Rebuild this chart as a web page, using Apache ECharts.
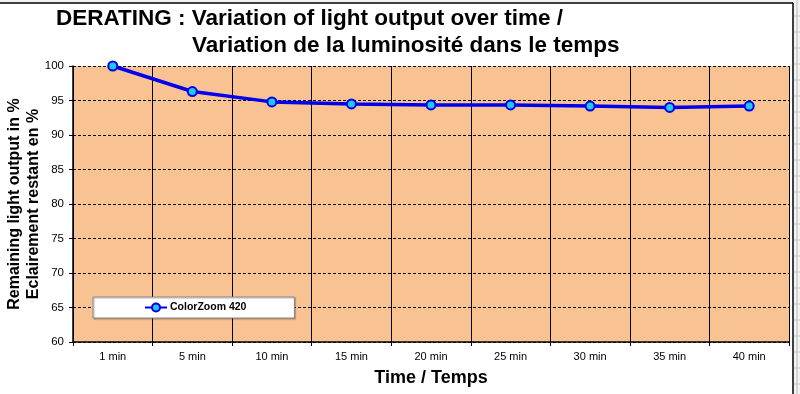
<!DOCTYPE html>
<html><head><meta charset="utf-8">
<script src="https://cdn.jsdelivr.net/npm/echarts@6/dist/echarts.min.js"></script>
<style>html,body{margin:0;padding:0;background:#fff}#c{width:800px;height:394px}</style>
</head><body><div id="c"></div>
<script>
const categories = ['1 min','5 min','10 min','15 min','20 min','25 min','30 min','35 min','40 min'];
const seriesName = 'ColorZoom 420';
const values = [100, 96.3, 94.8, 94.5, 94.35, 94.35, 94.2, 94.0, 94.2];
const titleLine1 = 'DERATING : Variation of light output over time /';
const titleLine2 = 'Variation de la luminosité dans le temps';
const yName = 'Remaining light output in %\nEclairement restant en %';
const xName = 'Time / Temps';

const chart = echarts.init(document.getElementById('c'), null, {renderer:'canvas'});
const F = 'Arial, "Liberation Sans", sans-serif';
const sheetLines = [];
for (let y = 16; y < 394; y += 16) {
  sheetLines.push({type:'line', shape:{x1:794,y1:y,x2:800,y2:y}, style:{stroke:'#c8c8c8', lineWidth:1}, silent:true});
}
chart.setOption({
  animation:false,
  backgroundColor:'#fff',
  title:[
    {text:titleLine1, left:56, top:7, padding:0, textStyle:{fontFamily:F, fontSize:22.5, fontWeight:'bold', color:'#000'}},
    {text:titleLine2, left:192, top:34, padding:0, textStyle:{fontFamily:F, fontSize:22.5, fontWeight:'bold', color:'#000'}}
  ],
  graphic:[
    {type:'rect', shape:{x:794,y:0,width:6,height:394}, style:{fill:'#f2f2f2'}, silent:true, z:-1},
    {type:'rect', shape:{x:0,y:0,width:800,height:3}, style:{fill:'#f2f2f2'}, silent:true, z:-1},
    ...sheetLines,
    {type:'line', shape:{x1:797,y1:0,x2:797,y2:394}, style:{stroke:'#bbb', lineWidth:1}, silent:true},
    {type:'line', shape:{x1:0,y1:3,x2:793,y2:3}, style:{stroke:'#000', lineWidth:1.5}, silent:true},
    {type:'line', shape:{x1:793,y1:3,x2:793,y2:394}, style:{stroke:'#000', lineWidth:1.5}, silent:true}
  ],
  legend:{
    left:93, top:297,
    padding:[5,48,5,51],
    backgroundColor:'#fff', borderColor:'#888', borderWidth:1,
    shadowColor:'rgba(0,0,0,0.3)', shadowOffsetX:1, shadowOffsetY:1, shadowBlur:1,
    itemWidth:22, itemHeight:10, itemGap:3,
    textStyle:{fontFamily:F, fontSize:10.5, fontWeight:'bold', color:'#000', padding:[0,0,0,-2]},
    data:[seriesName]
  },
  grid:{left:73, right:11, top:66, bottom:52, show:true, backgroundColor:'#F9C292', borderWidth:0, containLabel:false, outerBoundsMode:'none'},
  xAxis:{
    type:'category', data:categories, boundaryGap:true,
    name:xName, nameLocation:'middle', nameGap:27, nameMoveOverlap:false,
    nameTextStyle:{fontFamily:F, fontSize:18, fontWeight:'bold', color:'#000'},
    axisLine:{lineStyle:{color:'#000', width:1.5}},
    axisTick:{show:true, length:4, lineStyle:{color:'#000'}},
    axisLabel:{fontFamily:F, fontSize:11, color:'#000', margin:9},
    splitLine:{show:true, lineStyle:{color:'#000', width:1, type:'solid'}}
  },
  yAxis:{
    type:'value', min:60, max:100, interval:5,
    name:yName, nameLocation:'middle', nameGap:30, nameRotate:90, nameMoveOverlap:false,
    nameTextStyle:{fontFamily:F, fontSize:16, fontWeight:'bold', color:'#000', lineHeight:19},
    axisLine:{show:true, lineStyle:{color:'#000', width:1.5}},
    axisTick:{show:true, length:4, lineStyle:{color:'#000'}},
    axisLabel:{fontFamily:F, fontSize:11.5, color:'#000', margin:9},
    splitLine:{show:true, lineStyle:{color:'#000', width:1, type:[3,2]}}
  },
  series:[{
    name:seriesName, type:'line', data:values,
    symbol:'circle', symbolSize:9,
    lineStyle:{color:'#0000EE', width:3.5},
    itemStyle:{color:'#1EC8F0', borderColor:'#0000EE', borderWidth:2},
    z:5
  }]
});
</script></body></html>
